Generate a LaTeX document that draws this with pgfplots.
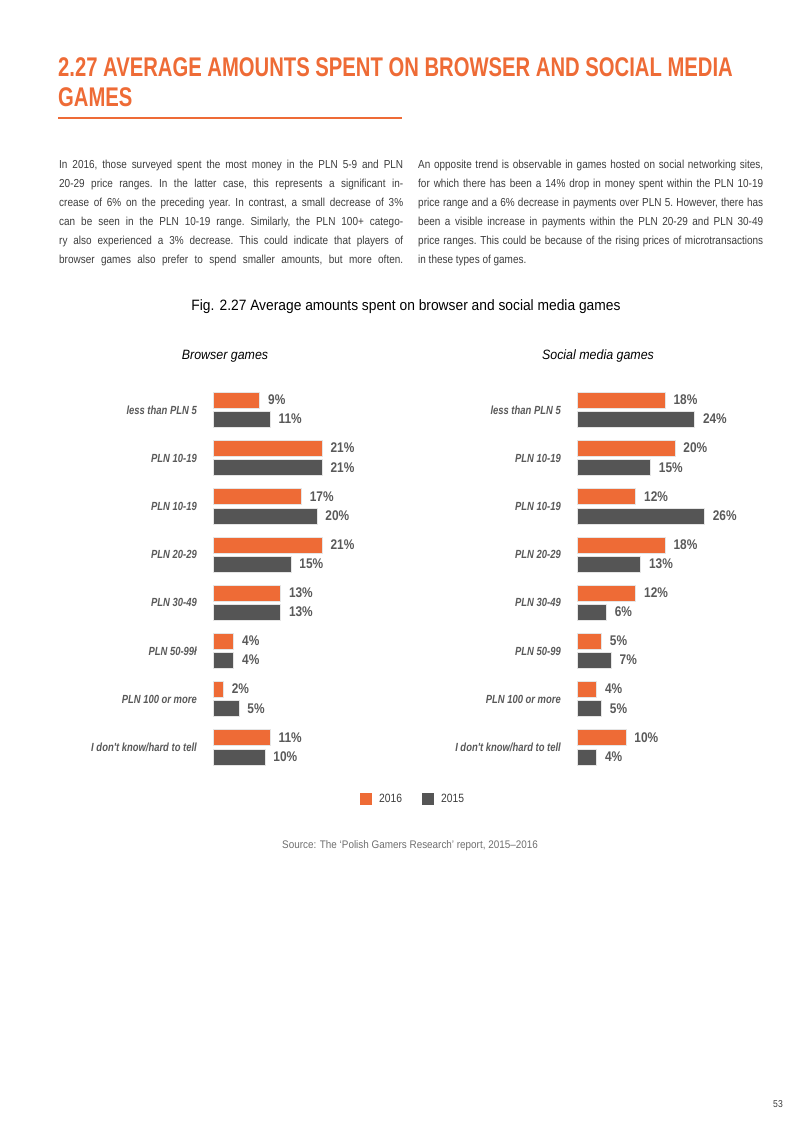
\documentclass[border=0pt]{standalone}
\usepackage{fontspec}
\setmainfont{Liberation Sans}
\newfontfamily\cond{Liberation Sans}[FakeStretch=0.86]
\newfontfamily\condb{Liberation Sans}[FakeStretch=0.8]
\newfontfamily\condn{Liberation Sans}[FakeStretch=0.85]
\newfontfamily\condh{Liberation Sans}[FakeStretch=0.75]
\newfontfamily\condt{Liberation Sans}[FakeStretch=0.92]
\newfontfamily\conds{Liberation Sans}[FakeStretch=0.9]
\usepackage{pgfplots}
\pgfplotsset{compat=1.18}
\definecolor{orng}{RGB}{238,107,54}
\definecolor{dgray}{RGB}{85,85,85}
\definecolor{lblgray}{RGB}{89,89,89}
\definecolor{txtgray}{RGB}{60,60,60}
\definecolor{srcgray}{RGB}{110,110,110}

\pgfplotsset{
  mybars/.style={
    xbar, bar width=16pt, scale only axis,
    height=385.6pt, ymin=-0.5, ymax=7.5, xmin=0,
    axis line style={draw=none}, tick style={draw=none},
    major tick length=0pt, xtick=\empty,
    ytick={0,...,7},
    /pgf/number format/assume math mode=true,
    yticklabel style={font=\condb\bfseries\itshape\fontsize{11.8pt}{12pt}\selectfont, text=lblgray, inner sep=0pt, xshift=-16pt},
    point meta=x,
    nodes near coords={\pgfmathprintnumber[assume math mode=true]{\pgfplotspointmeta}\%},
    nodes near coords align={horizontal},
    every node near coord/.append style={font=\condn\bfseries\fontsize{14pt}{14pt}\selectfont, text=lblgray, anchor=west, inner sep=0pt, xshift=8pt, yshift=0.5pt},
    clip=false,
  }
}

\begin{document}
\begin{tikzpicture}[x=1pt,y=1pt]
\path[use as bounding box] (0,0) rectangle (800,-1131);

% title
\node[anchor=base west, inner sep=0pt, text=orng, font=\condh\bfseries\fontsize{27pt}{30pt}\selectfont] at (58,-77) {2.27 AVERAGE AMOUNTS SPENT ON BROWSER AND SOCIAL MEDIA};
\node[anchor=base west, inner sep=0pt, text=orng, font=\condh\bfseries\fontsize{27pt}{30pt}\selectfont] at (58,-107) {GAMES};
\draw[orng, line width=1.5pt] (58,-118) -- (402,-118);

% body text
\node[anchor=base west, inner sep=0pt, text=txtgray] at (59,-169) {\begin{minipage}[t]{344pt}\cond\fontsize{11.6pt}{19pt}\selectfont\frenchspacing\parindent=0pt\parfillskip=0pt\emergencystretch=3em
In 2016, those surveyed spent the most money in the PLN 5-9 and PLN\linebreak
20-29 price ranges. In the latter case, this represents a significant in-\linebreak
crease of 6\% on the preceding year. In contrast, a small decrease of 3\%\linebreak
can be seen in the PLN 10-19 range. Similarly, the PLN 100+ catego-\linebreak
ry also experienced a 3\% decrease. This could indicate that players of\linebreak
browser games also prefer to spend smaller amounts, but more often.\par
\end{minipage}};
\node[anchor=base west, inner sep=0pt, text=txtgray] at (418,-169) {\begin{minipage}[t]{345pt}\cond\fontsize{11.6pt}{19pt}\selectfont\frenchspacing\parindent=0pt\emergencystretch=3em
An opposite trend is observable in games hosted on social networking sites,\linebreak
for which there has been a 14\% drop in money spent within the PLN 10-19\linebreak
price range and a 6\% decrease in payments over PLN 5. However, there has\linebreak
been a visible increase in payments within the PLN 20-29 and PLN 30-49\linebreak
price ranges. This could be because of the rising prices of microtransactions\linebreak
in these types of games.\par
\end{minipage}};

% chart title
\node[anchor=base, inner sep=0pt, text=black, font=\condt\fontsize{15pt}{16pt}\selectfont] at (406,-310) {Fig. 2.27 Average amounts spent on browser and social media games};
\node[anchor=base, inner sep=0pt, text=black, font=\condt\itshape\fontsize{13.5pt}{14pt}\selectfont] at (225,-359) {Browser games};
\node[anchor=base, inner sep=0pt, text=black, font=\condt\itshape\fontsize{13.5pt}{14pt}\selectfont] at (598,-359) {Social media games};

% left chart
\begin{axis}[mybars, at={(213pt,-771.5pt)}, anchor=south west,
  width=130pt, xmax=25,
  yticklabels={I don't know/hard to tell, PLN 100 or more, PLN 50-99ł, PLN 30-49, PLN 20-29, PLN 10-19, PLN 10-19, less than PLN 5},
  legend style={at={(1.54,-0.0713)}, anchor=center, draw=none, fill=none, legend columns=2,
    font=\cond\fontsize{12pt}{13pt}\selectfont, text=txtgray,
    /tikz/every odd column/.append style={column sep=5pt},
    /tikz/every even column/.append style={column sep=18pt}},
  legend image code/.code={\fill[#1,draw=none] (0pt,-6pt) rectangle (12pt,6pt);},
]
\addplot[fill=orng, draw=black!10, line width=0.8pt, bar shift=9.6pt] coordinates {(11,0) (2,1) (4,2) (13,3) (21,4) (17,5) (21,6) (9,7)};
\addlegendentry{2016}
\addplot[fill=dgray, draw=black!10, line width=0.8pt, bar shift=-9.6pt] coordinates {(10,0) (5,1) (4,2) (13,3) (15,4) (20,5) (21,6) (11,7)};
\addlegendentry{2015}
\end{axis}

% right chart
\begin{axis}[mybars, at={(577pt,-771.5pt)}, anchor=south west,
  width=147pt, xmax=30,
  yticklabels={I don't know/hard to tell, PLN 100 or more, PLN 50-99, PLN 30-49, PLN 20-29, PLN 10-19, PLN 10-19, less than PLN 5},
]
\addplot[fill=orng, draw=black!10, line width=0.8pt, bar shift=9.6pt] coordinates {(10,0) (4,1) (5,2) (12,3) (18,4) (12,5) (20,6) (18,7)};
\addplot[fill=dgray, draw=black!10, line width=0.8pt, bar shift=-9.6pt] coordinates {(4,0) (5,1) (7,2) (6,3) (13,4) (26,5) (15,6) (24,7)};
\end{axis}

% source
\node[anchor=base, inner sep=0pt, text=srcgray, font=\conds\fontsize{11pt}{12pt}\selectfont] at (410,-848) {Source: The ‘Polish Gamers Research’ report, 2015–2016};
\node[anchor=base, inner sep=0pt, text=txtgray, font=\cond\fontsize{10pt}{11pt}\selectfont] at (778,-1107) {53};
\end{tikzpicture}
\end{document}
